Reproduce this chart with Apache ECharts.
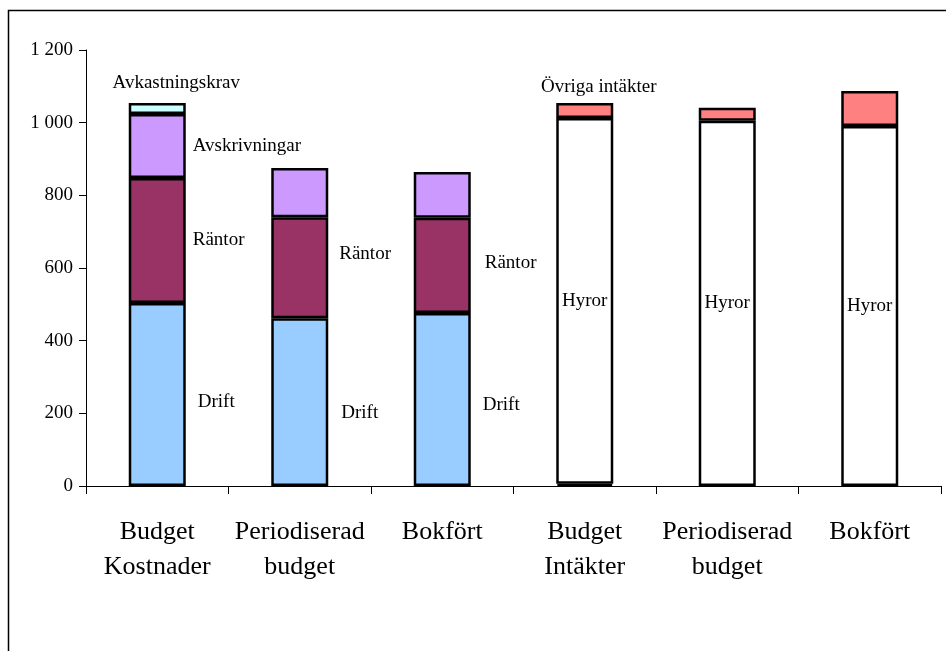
<!DOCTYPE html>
<html>
<head>
<meta charset="utf-8">
<script src="https://cdn.jsdelivr.net/npm/echarts@6/dist/echarts.min.js"></script>
<style>
  html, body { margin: 0; padding: 0; background: #fff; }
  #main { width: 946px; height: 651px; }
</style>
</head>
<body>
<div id="main"></div>
<script>
var categories = ['Budget\nKostnader', 'Periodiserad\nbudget', 'Bokfört', 'Budget\nIntäkter', 'Periodiserad\nbudget', 'Bokfört']
var drift = [504, 462, 476, '-', '-', '-']
var rantor = [344, 278, 262, 6, '-', '-']
var avskrivningar = [176, 135, 126, '-', '-', '-']
var avkastningskrav = [30, '-', '-', '-', '-', '-']
var hyror = ['-', '-', '-', 1007, 1005, 991]
var ovriga = ['-', '-', '-', 41, 36, 96]

var serif = '"Liberation Serif", "DejaVu Serif", serif'

// vilka staplar som har etikett, och var
var labels = {
  'Drift': { 0: { position: 'right', distance: 12, offset: [0, 8] }, 1: { position: 'right', distance: 13, offset: [0, 11] }, 2: { position: 'right', distance: 12, offset: [0, 5] } },
  'Räntor': { 0: { position: 'right', distance: 7, offset: [0, 0] }, 1: { position: 'right', distance: 11, offset: [0, -14] }, 2: { position: 'right', distance: 14, offset: [0, -2] } },
  'Avskrivningar': { 0: { position: 'right', distance: 7, offset: [0, 0] } },
  'Avkastningskrav': { 0: { position: 'top', distance: 11, offset: [19, 0] } },
  'Hyror': { 3: { position: 'inside', offset: [0, 0] }, 4: { position: 'inside', offset: [0, 0] }, 5: { position: 'inside', offset: [0, 0] } },
  'Övriga intäkter': { 3: { position: 'top', distance: 7, offset: [14, 0] } }
}

function makeSeries(name, values, color) {
  return {
    name: name,
    type: 'bar',
    stack: 'total',
    barWidth: '40%',
    itemStyle: { color: color, borderColor: '#000', borderWidth: 2.5 },
    data: values.map(function (v, i) {
      var l = labels[name][i]
      return {
        value: v,
        label: l ? {
          show: true,
          position: l.position,
          distance: l.distance,
          offset: l.offset,
          formatter: name,
          color: '#000',
          fontFamily: serif,
          fontSize: 19
        } : { show: false }
      }
    })
  }
}

var chart = echarts.init(document.getElementById('main'))
chart.setOption({
  animation: false,
  backgroundColor: '#fff',
  graphic: [{
    type: 'rect',
    shape: { x: 8.5, y: 10.5, width: 2000, height: 2000 },
    style: { fill: 'none', stroke: '#000', lineWidth: 1.5 }
  }],
  grid: { left: 86, right: 5, top: 50, bottom: 165 },
  xAxis: {
    type: 'category',
    data: categories,
    axisLine: { lineStyle: { color: '#000', width: 1 } },
    axisTick: { show: true, length: 8, lineStyle: { color: '#000' } },
    axisLabel: {
      color: '#000',
      fontFamily: serif,
      fontSize: 26,
      lineHeight: 35,
      margin: 29,
      interval: 0
    }
  },
  yAxis: {
    type: 'value',
    min: 0,
    max: 1200,
    interval: 200,
    splitLine: { show: false },
    axisLine: { show: true, lineStyle: { color: '#000', width: 1 } },
    axisTick: { show: true, length: 7, lineStyle: { color: '#000' } },
    axisLabel: {
      color: '#000',
      fontFamily: serif,
      fontSize: 19,
      margin: 13,
      formatter: function (v) { return String(v).replace(/\B(?=(\d{3})+(?!\d))/g, ' ') }
    }
  },
  series: [
    makeSeries('Drift', drift, '#99ccff'),
    makeSeries('Räntor', rantor, '#993366'),
    makeSeries('Avskrivningar', avskrivningar, '#cc99ff'),
    makeSeries('Avkastningskrav', avkastningskrav, '#ccffff'),
    makeSeries('Hyror', hyror, '#ffffff'),
    makeSeries('Övriga intäkter', ovriga, '#ff8080')
  ]
})
</script>
</body>
</html>
